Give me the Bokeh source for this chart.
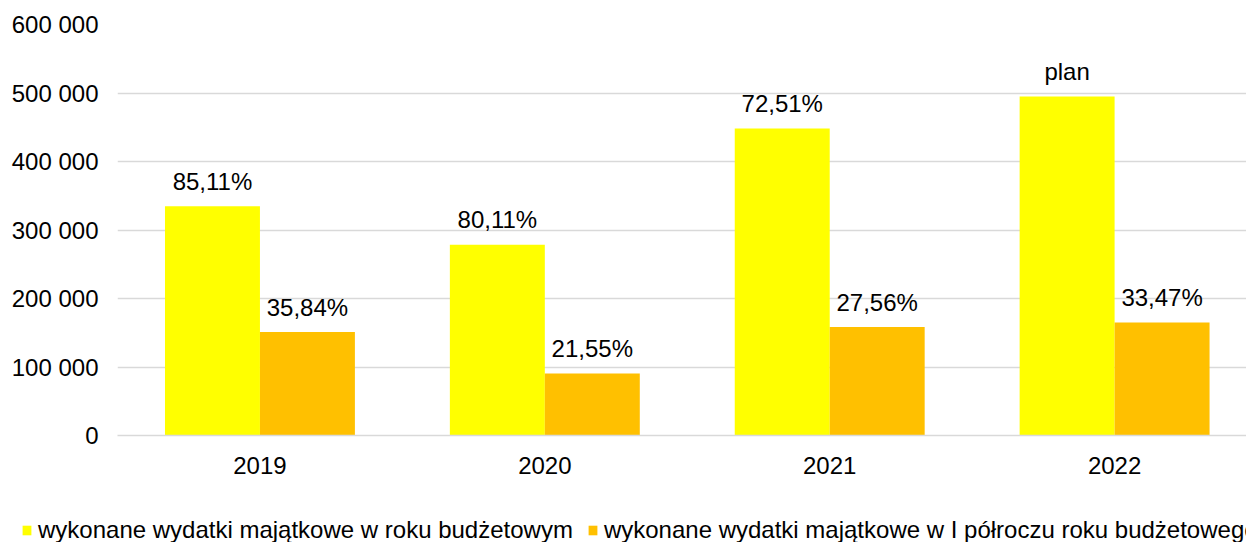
from bokeh.plotting import figure
from bokeh.layouts import column
from bokeh.models import (ColumnDataSource, Range1d, FixedTicker, Legend, LegendItem,
                          CustomJSTickFormatter)
from bokeh.transform import dodge
from bokeh.core.properties import value
from bokeh.embed import file_html
from bokeh.resources import INLINE

years = ["2019", "2020", "2021", "2022"]
full_year = [334500, 278600, 448100, 494800]
half_year = [151000, 90600, 158300, 165100]
full_labels = ["85,11%", "80,11%", "72,51%", "plan"]
half_labels = ["35,84%", "21,55%", "27,56%", "33,47%"]
series_names = ["wykonane wydatki majątkowe w roku budżetowym",
                "wykonane wydatki majątkowe w I półroczu roku budżetowego"]
y_ticks = [0, 100000, 200000, 300000, 400000, 500000, 600000]

FONT = "Liberation Sans"
FS = "24px"
YELLOW = "#FFFF00"
ORANGE = "#FFC000"
GRID = "#D9D9D9"

idx = list(range(len(years)))
src = ColumnDataSource(dict(idx=idx, full=full_year, half=half_year,
                            fl=full_labels, hl=half_labels))

p = figure(output_backend="svg", toolbar_location=None,
           frame_width=1129, frame_height=411,
           min_border_left=117, min_border_right=0,
           min_border_top=24, min_border_bottom=50,
           x_range=Range1d(-0.5, 3.463), y_range=Range1d(0, 600000))
p.outline_line_color = None
p.background_fill_color = "white"
p.border_fill_color = "white"

r1 = p.vbar(x=dodge("idx", -1/6, range=p.x_range), top="full", width=1/3,
            source=src, fill_color=YELLOW, line_color=None)
r2 = p.vbar(x=dodge("idx", 1/6, range=p.x_range), top="half", width=1/3,
            source=src, fill_color=ORANGE, line_color=None)

p.text(x=dodge("idx", -1/6, range=p.x_range), y="full", text="fl", source=src,
       text_align="center", text_baseline="middle", y_offset=-25,
       text_font=value(FONT), text_font_size=FS, text_color="#000000")
p.text(x=dodge("idx", 1/6, range=p.x_range), y="half", text="hl", source=src,
       text_align="center", text_baseline="middle", y_offset=-25,
       text_font=value(FONT), text_font_size=FS, text_color="#000000")

# axes
p.xaxis.ticker = FixedTicker(ticks=idx)
p.xaxis.major_label_overrides = {i: y for i, y in zip(idx, years)}
p.xaxis.axis_line_color = GRID
p.xaxis.axis_line_width = 1.5
p.xaxis.major_tick_line_color = None
p.xaxis.minor_tick_line_color = None
p.xaxis.major_label_standoff = 15
p.xaxis.major_label_text_font = FONT
p.xaxis.major_label_text_font_size = FS
p.xaxis.major_label_text_color = "#000000"

p.yaxis.ticker = FixedTicker(ticks=y_ticks)
p.yaxis.formatter = CustomJSTickFormatter(code="""
    return tick.toFixed(0).replace(/\\B(?=(\\d{3})+(?!\\d))/g, ' ');
""")
p.yaxis.axis_line_color = None
p.yaxis.major_tick_line_color = None
p.yaxis.minor_tick_line_color = None
p.yaxis.major_label_standoff = 13
p.yaxis.major_label_text_font = FONT
p.yaxis.major_label_text_font_size = FS
p.yaxis.major_label_text_color = "#000000"

p.xgrid.grid_line_color = None
p.ygrid.ticker = FixedTicker(ticks=y_ticks)
p.ygrid.grid_line_color = GRID
p.ygrid.grid_line_width = 1.5

# legend strip below the chart (its renderers are hidden; only the legend shows)
p2 = figure(output_backend="svg", toolbar_location=None,
            frame_width=1246, frame_height=57,
            min_border=0, x_range=Range1d(-0.5, 3.5), y_range=Range1d(0, 600000))
p2.outline_line_color = None
p2.axis.visible = False
p2.grid.visible = False
p2.border_fill_color = "white"
p2.background_fill_color = "white"
lg1 = p2.vbar(x="idx", top="full", width=1/3, source=src,
              fill_color=YELLOW, line_color=None, visible=False)
lg2 = p2.vbar(x="idx", top="half", width=1/3, source=src,
              fill_color=ORANGE, line_color=None, visible=False)

legend = Legend(items=[LegendItem(label=series_names[0], renderers=[lg1]),
                       LegendItem(label=series_names[1], renderers=[lg2])],
                orientation="horizontal", location=(21, -2),
                padding=0, margin=0, spacing=14, label_standoff=6,
                glyph_width=11, glyph_height=12, label_height=20,
                label_text_font=FONT, label_text_font_size=FS,
                label_text_color="#000000",
                background_fill_alpha=0, border_line_color=None)
p2.add_layout(legend, "center")

layout = column(p, p2, spacing=0)
open("out.html", "w").write(file_html(layout, INLINE))
